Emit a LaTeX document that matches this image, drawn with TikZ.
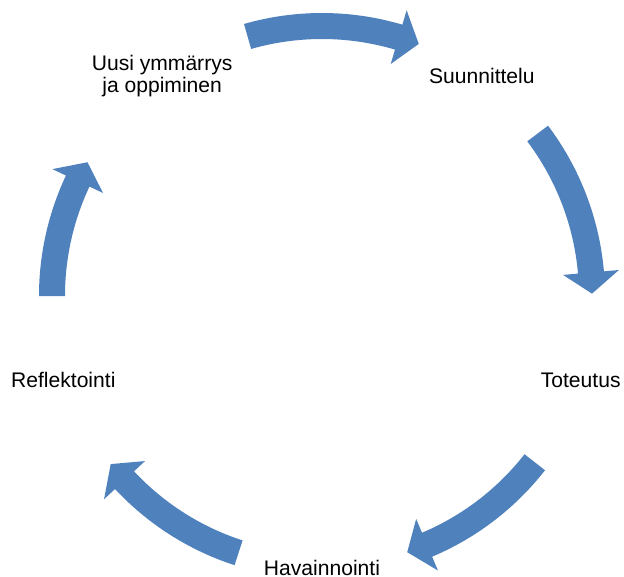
\documentclass[tikz,border=0pt]{standalone}
\usepackage{fontspec}
\setmainfont{Liberation Sans}
\usepackage{tikz}

\definecolor{cycleblue}{HTML}{4F81BD}

% curved block arrow on the cycle, from angle #1 to angle #2 (clockwise)
\newcommand{\cyclearrow}[2]{%
  \fill[band] (#1:257) arc[start angle=#1, end angle=#2+4.5, radius=257]
    -- ({#2+4.5}:242) -- (#2:270) -- ({#2+4.5}:298) -- ({#2+4.5}:283)
    arc[start angle=#2+4.5, end angle=#1, radius=283] -- cycle;}

\begin{document}
\begin{tikzpicture}[
  x=0.02cm, y=0.02cm,
  stagelabel/.style={font=\fontsize{12}{12.5}\selectfont, align=center, inner sep=0pt},
  band/.style={fill=cycleblue}
]
\useasboundingbox (-322,-280) rectangle (302,296);

% Stages of the cycle
\node[stagelabel] (plan) at (54:272) {Suunnittelu};
\node[stagelabel] (act) at (-18:272) {Toteutus};
\node[stagelabel] (observe) at (-90:272) {Havainnointi};
\node[stagelabel] (reflect) at (198:272) {Reflektointi};
\node[stagelabel] (learn) at (126:272) {Uusi ymmärrys\\ja oppiminen};

% Arrows between the stages
\cyclearrow{106}{69}
\cyclearrow{37}{0.5}
\cyclearrow{-38}{-71.6}
\cyclearrow{-108}{-141.5}
\cyclearrow{180}{150.3}

\end{tikzpicture}
\end{document}
